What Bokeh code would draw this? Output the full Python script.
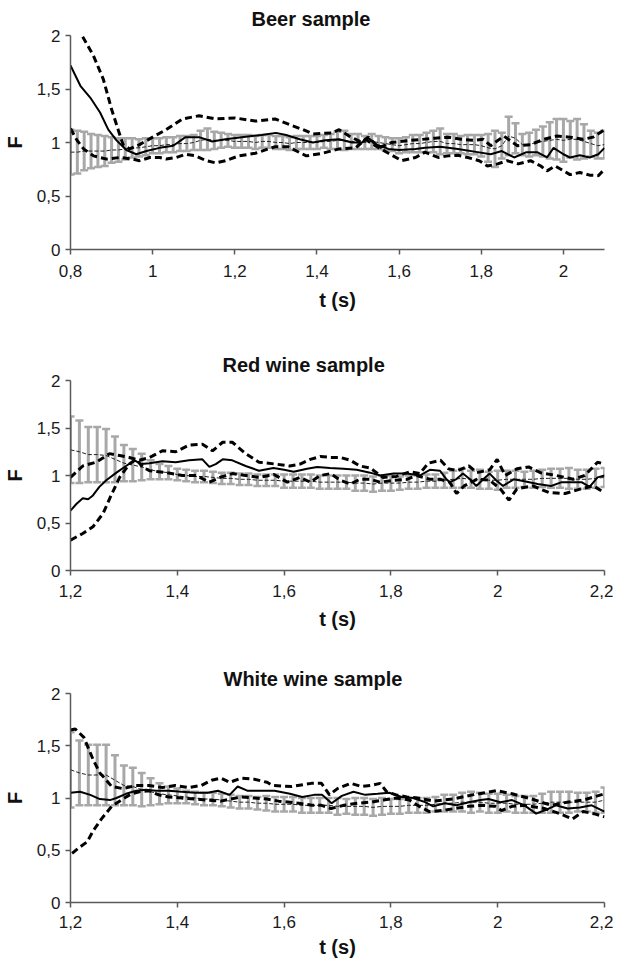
from bokeh.plotting import figure
from bokeh.layouts import column
from bokeh.models import Range1d, FixedTicker, Whisker, TeeHead, ColumnDataSource, CustomJSTickFormatter
from bokeh.embed import file_html
from bokeh.resources import INLINE

FONT = "Liberation Sans"
GRAY = "#a8a8a8"
AXIS = "#5a5a5a"

# ---------------- data ----------------
bar_step = 1.0 / 60.0   # spacing of the grey error bars (s)

# Beer sample
beer_bar_start = 0.8
beer_bar_mean = [0.91,0.91,0.92,0.92,0.92,0.92,0.93,0.93,0.94,0.95,
                 0.95,0.96,0.97,0.97,0.98,0.98,0.99,0.99,1.00,1.02,
                 1.03,1.02,1.02,1.02,1.01,1.01,1.01,1.00,1.01,1.01,
                 1.00,1.00,0.99,1.00,1.00,1.00,1.00,1.01,1.01,1.02,
                 1.02,1.01,1.01,1.00,1.01,1.00,0.99,0.98,0.97,0.98,
                 0.99,0.99,1.00,1.01,1.01,0.99,0.99,0.98,0.98,0.98,
                 0.97,0.95,0.94,0.97,1.06,1.04,0.98,0.98,1.00,1.01,
                 1.02,1.03,1.02,1.03,1.03,1.01,0.99,0.97,0.98]
beer_bar_half = [0.21,0.20,0.18,0.16,0.15,0.14,0.12,0.11,0.10,0.09,
                 0.08,0.08,0.07,0.07,0.07,0.07,0.07,0.07,0.07,0.09,
                 0.10,0.08,0.07,0.06,0.06,0.06,0.06,0.06,0.06,0.06,
                 0.06,0.06,0.06,0.06,0.06,0.06,0.06,0.06,0.07,0.08,
                 0.09,0.07,0.07,0.06,0.07,0.06,0.06,0.06,0.07,0.07,
                 0.08,0.08,0.09,0.10,0.12,0.09,0.09,0.08,0.09,0.09,
                 0.10,0.13,0.17,0.12,0.18,0.14,0.10,0.11,0.12,0.14,
                 0.17,0.19,0.20,0.17,0.19,0.16,0.12,0.12,0.13]
beer_solid_t = [0.800,0.824,0.848,0.872,0.892,0.912,0.936,0.960,0.985,1.017,
                1.050,1.080,1.113,1.145,1.177,1.217,1.265,1.300,1.325,1.358,
                1.390,1.420,1.454,1.485,1.510,1.522,1.545,1.574,1.600,1.640,
                1.663,1.700,1.743,1.791,1.823,1.850,1.880,1.910,1.936,1.960,
                1.976,2.000,2.016,2.040,2.064,2.085,2.100]
beer_solid_f = [1.72,1.53,1.42,1.28,1.12,1.02,0.93,0.89,0.92,0.95,
                0.97,1.05,1.05,1.01,1.03,1.05,1.07,1.09,1.07,1.03,
                1.00,1.02,1.03,1.00,1.00,1.05,0.98,0.94,0.93,0.94,
                0.95,0.96,0.94,0.91,0.89,0.92,0.86,0.91,0.91,0.86,
                0.95,0.89,0.86,0.88,0.86,0.89,0.95]
beer_up_t = [0.800,0.828,0.856,0.880,0.900,0.916,0.928,0.944,0.968,1.000,
             1.033,1.073,1.113,1.153,1.200,1.250,1.298,1.338,1.366,1.390,
             1.438,1.454,1.478,1.510,1.526,1.550,1.582,1.630,1.687,1.720,
             1.751,1.783,1.805,1.823,1.855,1.888,1.920,1.952,1.984,2.016,
             2.048,2.072,2.100]
beer_up_f = [2.16,2.00,1.81,1.59,1.31,1.12,0.98,0.94,0.98,1.05,
             1.12,1.22,1.25,1.22,1.23,1.20,1.22,1.16,1.12,1.08,
             1.09,1.12,1.06,1.00,1.05,0.95,1.00,1.02,1.04,1.05,
             1.03,1.02,1.03,0.97,1.06,0.97,0.98,1.03,1.06,1.05,
             1.03,1.05,1.12]
beer_lo_t = [0.800,0.816,0.832,0.856,0.888,0.920,0.952,0.968,0.993,1.017,
             1.033,1.057,1.080,1.105,1.130,1.153,1.177,1.210,1.250,1.298,
             1.330,1.374,1.414,1.454,1.494,1.518,1.542,1.574,1.606,1.640,
             1.663,1.695,1.719,1.743,1.767,1.795,1.815,1.840,1.863,1.890,
             1.920,1.945,1.960,1.980,2.016,2.040,2.064,2.085,2.100]
beer_lo_f = [1.13,1.02,0.94,0.875,0.845,0.86,0.845,0.83,0.86,0.86,
             0.845,0.86,0.89,0.875,0.83,0.81,0.83,0.875,0.90,0.96,
             0.96,0.875,0.90,0.94,0.95,1.03,0.97,0.90,0.83,0.86,
             0.91,0.86,0.875,0.88,0.86,0.83,0.78,0.80,0.83,0.80,
             0.83,0.78,0.735,0.78,0.70,0.72,0.695,0.69,0.75]

# Red wine sample
red_bar_start = 1.2
red_bar_mean = [1.27,1.25,1.22,1.22,1.21,1.17,1.13,1.11,1.09,1.06,
                1.04,1.03,1.01,1.00,0.99,0.99,0.98,0.97,0.97,0.96,
                0.96,0.95,0.95,0.95,0.94,0.94,0.94,0.94,0.93,0.93,
                0.93,0.93,0.92,0.92,0.91,0.92,0.92,0.92,0.93,0.93,
                0.94,0.94,0.95,0.96,0.97,0.96,0.96,0.95,0.95,0.96,
                0.96,0.96,0.96,0.97,0.97,0.97,0.97,0.96,0.96,0.97,
                0.98]
red_bar_half = [0.35,0.33,0.29,0.29,0.28,0.24,0.19,0.17,0.14,0.10,
                0.08,0.07,0.06,0.06,0.06,0.06,0.06,0.06,0.06,0.06,
                0.06,0.06,0.06,0.06,0.07,0.07,0.07,0.07,0.07,0.07,
                0.07,0.07,0.08,0.08,0.08,0.08,0.08,0.07,0.07,0.07,
                0.07,0.07,0.08,0.09,0.10,0.09,0.10,0.09,0.10,0.09,
                0.09,0.08,0.09,0.09,0.10,0.10,0.11,0.10,0.10,0.10,
                0.10]
red_solid_t = [1.200,1.211,1.223,1.233,1.242,1.254,1.267,1.286,1.304,1.320,
               1.332,1.348,1.372,1.397,1.422,1.447,1.460,1.472,1.485,1.503,
               1.528,1.553,1.580,1.600,1.618,1.643,1.662,1.686,1.711,1.736,
               1.761,1.780,1.805,1.830,1.854,1.873,1.892,1.904,1.910,1.922,
               1.935,1.948,1.960,1.973,1.985,1.997,2.010,2.030,2.050,2.075,
               2.100,2.120,2.141,2.157,2.172,2.187,2.200]
red_solid_f = [0.63,0.70,0.76,0.75,0.79,0.88,0.95,1.03,1.10,1.16,
               1.12,1.13,1.15,1.14,1.16,1.17,1.09,1.12,1.17,1.16,
               1.10,1.05,1.08,1.06,1.04,1.07,1.09,1.08,1.07,1.06,
               1.03,1.00,1.02,1.02,1.00,1.06,1.05,0.96,0.93,0.96,
               1.02,0.96,0.89,0.96,1.02,0.95,0.89,0.96,0.94,0.91,
               0.89,0.93,0.93,0.93,0.88,0.98,1.00]
red_up_t = [1.200,1.223,1.248,1.273,1.292,1.310,1.329,1.348,1.372,1.397,
            1.422,1.447,1.466,1.485,1.503,1.528,1.553,1.584,1.610,1.630,
            1.649,1.668,1.687,1.705,1.724,1.742,1.761,1.785,1.810,1.836,
            1.854,1.870,1.893,1.908,1.925,1.946,1.961,1.985,1.999,2.014,
            2.036,2.058,2.080,2.110,2.141,2.163,2.187,2.200]
red_up_f = [0.98,1.10,1.14,1.23,1.21,1.19,1.16,1.19,1.26,1.25,
            1.32,1.33,1.26,1.35,1.35,1.23,1.14,1.12,1.10,1.12,
            1.17,1.20,1.19,1.19,1.16,1.10,1.08,0.98,0.99,1.04,
            1.02,1.13,1.16,1.07,1.05,1.10,1.03,1.06,1.17,1.00,
            1.07,1.09,1.03,1.00,0.96,1.00,1.14,1.12]
red_lo_t = [1.200,1.223,1.242,1.261,1.276,1.292,1.310,1.323,1.335,1.348,
            1.379,1.410,1.435,1.460,1.480,1.503,1.528,1.553,1.581,1.606,
            1.630,1.649,1.668,1.687,1.705,1.724,1.742,1.761,1.780,1.805,
            1.830,1.848,1.873,1.892,1.910,1.923,1.937,1.961,1.985,2.005,
            2.021,2.036,2.066,2.096,2.126,2.156,2.179,2.200]
red_lo_f = [0.32,0.39,0.46,0.60,0.79,0.98,1.12,1.17,1.09,1.05,
            1.03,1.00,1.00,0.93,0.98,1.02,1.00,0.98,1.01,0.93,
            0.98,0.93,1.00,1.02,0.95,0.91,0.96,0.96,0.93,0.95,
            0.96,1.00,0.96,0.96,0.93,0.81,0.89,0.96,0.95,0.86,
            0.74,0.86,0.89,0.82,0.81,0.86,0.89,0.82]

# White wine sample
white_bar_start = 1.2
white_bar_mean = [1.27,1.24,1.22,1.22,1.22,1.17,1.12,1.11,1.08,1.06,
                  1.04,1.03,1.02,1.01,1.00,0.99,0.99,0.98,0.97,0.96,
                  0.96,0.95,0.95,0.94,0.94,0.94,0.93,0.93,0.93,0.93,
                  0.92,0.92,0.92,0.92,0.91,0.92,0.92,0.92,0.93,0.93,
                  0.93,0.94,0.95,0.95,0.96,0.96,0.96,0.95,0.95,0.95,
                  0.94,0.94,0.94,0.95,0.96,0.96,0.96,0.96,0.96,0.96,
                  0.98]
white_bar_half = [0.36,0.31,0.29,0.29,0.29,0.24,0.19,0.18,0.16,0.13,
                  0.10,0.08,0.07,0.06,0.06,0.06,0.06,0.06,0.06,0.06,
                  0.06,0.06,0.07,0.07,0.07,0.07,0.07,0.07,0.07,0.07,
                  0.08,0.07,0.08,0.08,0.08,0.08,0.07,0.07,0.07,0.07,
                  0.07,0.07,0.08,0.08,0.09,0.10,0.09,0.09,0.09,0.08,
                  0.08,0.08,0.08,0.09,0.10,0.10,0.10,0.09,0.09,0.10,
                  0.12]
white_solid_t = [1.200,1.218,1.237,1.255,1.274,1.286,1.304,1.323,1.341,1.360,
                 1.384,1.408,1.433,1.457,1.476,1.498,1.513,1.531,1.556,1.582,
                 1.611,1.634,1.656,1.671,1.689,1.708,1.730,1.752,1.775,1.797,
                 1.820,1.842,1.864,1.879,1.901,1.923,1.946,1.968,1.983,2.005,
                 2.027,2.050,2.072,2.087,2.109,2.131,2.154,2.176,2.200]
white_solid_f = [1.05,1.06,1.03,0.99,0.98,1.00,1.04,1.07,1.08,1.07,
                 1.07,1.06,1.05,1.05,1.07,1.03,1.11,1.07,1.07,1.07,
                 1.04,1.01,1.03,1.03,0.95,1.02,1.06,1.03,1.04,1.05,
                 1.01,1.00,0.96,0.92,0.95,0.93,0.96,0.98,0.99,0.96,
                 0.98,0.93,0.85,0.88,0.93,0.90,0.91,0.93,0.87]
white_up_t = [1.200,1.209,1.225,1.234,1.243,1.255,1.264,1.277,1.298,1.323,
              1.347,1.372,1.396,1.421,1.445,1.464,1.482,1.498,1.520,1.544,
              1.568,1.578,1.614,1.651,1.670,1.685,1.700,1.725,1.745,1.762,
              1.780,1.792,1.810,1.830,1.850,1.880,1.916,1.953,1.998,2.027,
              2.064,2.100,2.130,2.160,2.180,2.200]
white_up_f = [1.65,1.66,1.58,1.47,1.36,1.24,1.19,1.11,1.09,1.12,
              1.12,1.10,1.12,1.10,1.12,1.17,1.19,1.15,1.19,1.18,
              1.15,1.12,1.11,1.14,1.14,1.03,1.09,1.14,1.11,1.12,
              1.14,1.06,1.03,1.01,1.00,0.97,0.99,1.03,1.07,1.04,
              0.99,0.93,0.96,0.98,1.01,1.04]
white_lo_t = [1.203,1.215,1.231,1.243,1.258,1.277,1.295,1.314,1.329,1.347,
              1.365,1.384,1.408,1.433,1.457,1.482,1.500,1.520,1.544,1.568,
              1.590,1.627,1.652,1.670,1.688,1.712,1.737,1.762,1.786,1.810,
              1.835,1.853,1.872,1.896,1.920,1.945,1.970,1.995,2.007,2.027,
              2.050,2.087,2.116,2.140,2.160,2.180,2.200]
white_lo_f = [0.47,0.52,0.58,0.69,0.80,0.92,0.98,1.04,1.06,1.07,
              1.03,1.01,1.00,0.99,0.98,0.97,0.99,1.01,1.00,0.99,
              0.97,0.95,0.93,0.93,0.90,0.93,0.95,0.96,0.98,1.00,
              0.98,0.92,0.87,0.88,0.90,0.92,0.93,0.92,0.88,0.92,
              0.93,0.90,0.85,0.80,0.87,0.85,0.82]

y_ticks = [0, 0.5, 1, 1.5, 2]
beer_x_ticks = [0.8, 1.0, 1.2, 1.4, 1.6, 1.8, 2.0]
wine_x_ticks = [1.2, 1.4, 1.6, 1.8, 2.0, 2.2]

fmt_code = "return (Math.round(tick*10)/10).toString().replace('.', ',');"


def make_panel(title, xr, xticks, bar_start, bar_mean, bar_half,
               solid_t, solid_f, up_t, up_f, lo_t, lo_f, g):
    p = figure(width=613, height=g["height"], output_backend="svg",
               toolbar_location=None, x_range=Range1d(*xr), y_range=Range1d(0, 2),
               min_border_left=g["left"], min_border_right=g["right"],
               min_border_top=g["top"], min_border_bottom=g["bottom"])
    p.outline_line_color = None
    p.grid.visible = False
    p.background_fill_color = "white"

    p.title.text = title
    p.title.text_font = FONT
    p.title.text_font_size = "20px"
    p.title.text_font_style = "bold"
    p.title.text_color = "#111111"
    p.title.align = "left"
    p.title.offset = g["title_offset"]
    p.title.standoff = g["title_standoff"]
    p.title.vertical_align = "middle"

    for ax in (p.xaxis[0], p.yaxis[0]):
        ax.axis_line_color = AXIS
        ax.axis_line_width = 1.5
        ax.major_tick_line_color = AXIS
        ax.major_tick_line_width = 1.5
        ax.major_tick_out = 5
        ax.major_tick_in = 0
        ax.minor_tick_line_color = None
        ax.major_label_text_font = FONT
        ax.major_label_text_font_size = "17px"
        ax.major_label_text_color = "#1a1a1a"
        ax.axis_label_text_font = FONT
        ax.axis_label_text_font_size = "20px"
        ax.axis_label_text_font_style = "bold"
        ax.axis_label_text_color = "#111111"
        ax.formatter = CustomJSTickFormatter(code=fmt_code)

    p.xaxis.ticker = FixedTicker(ticks=xticks)
    p.yaxis.ticker = FixedTicker(ticks=y_ticks)
    p.xaxis.axis_label = "t (s)"
    p.yaxis.axis_label = "F"
    p.xaxis.major_label_standoff = g["xtick_standoff"]
    p.xaxis.axis_label_standoff = g["xlabel_standoff"]
    p.yaxis.major_label_standoff = 5
    p.yaxis.axis_label_standoff = 8

    bar_t = [round(bar_start + i * bar_step, 5) for i in range(len(bar_mean))]
    src = ColumnDataSource(dict(t=bar_t,
                                lower=[m - h for m, h in zip(bar_mean, bar_half)],
                                upper=[m + h for m, h in zip(bar_mean, bar_half)],
                                mean=bar_mean))
    w = Whisker(base="t", lower="lower", upper="upper", source=src, dimension="height",
                line_color=GRAY, line_width=3,
                upper_head=TeeHead(size=8, line_color=GRAY, line_width=2.5),
                lower_head=TeeHead(size=8, line_color=GRAY, line_width=2.5))
    p.add_layout(w)

    p.line("t", "mean", source=src, line_color="#222222", line_width=1, line_dash="4 2")
    p.line(up_t, up_f, line_color="black", line_width=3, line_dash="7 4")
    p.line(lo_t, lo_f, line_color="black", line_width=3, line_dash="7 4")
    p.line(solid_t, solid_f, line_color="black", line_width=2)
    return p


g1 = dict(height=322, left=67, right=6, top=35, bottom=73, title_offset=181,
          title_standoff=10, xtick_standoff=10, xlabel_standoff=9)
g2 = dict(height=317, left=68, right=9, top=58, bottom=69, title_offset=152,
          title_standoff=8, xtick_standoff=9, xlabel_standoff=8)
g3 = dict(height=324, left=67, right=3, top=54, bottom=61, title_offset=153,
          title_standoff=5, xtick_standoff=8, xlabel_standoff=5)

p1 = make_panel("Beer sample", (0.8, 2.1), beer_x_ticks, beer_bar_start, beer_bar_mean,
                beer_bar_half, beer_solid_t, beer_solid_f, beer_up_t, beer_up_f,
                beer_lo_t, beer_lo_f, g1)
p2 = make_panel("Red wine sample", (1.2, 2.2), wine_x_ticks, red_bar_start, red_bar_mean,
                red_bar_half, red_solid_t, red_solid_f, red_up_t, red_up_f,
                red_lo_t, red_lo_f, g2)
p3 = make_panel("White wine sample", (1.2, 2.2), wine_x_ticks, white_bar_start, white_bar_mean,
                white_bar_half, white_solid_t, white_solid_f, white_up_t, white_up_f,
                white_lo_t, white_lo_f, g3)

layout = column(p1, p2, p3, spacing=0)
open("out.html", "w").write(file_html(layout, INLINE))
